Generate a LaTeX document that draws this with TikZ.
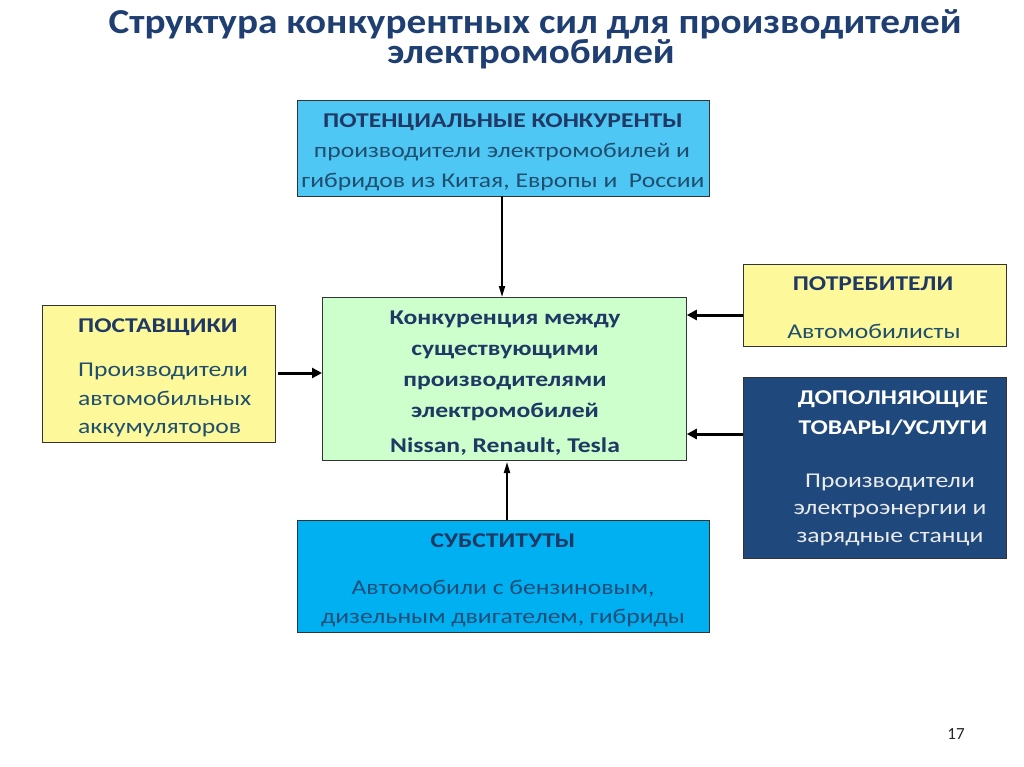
\documentclass[tikz,border=0pt]{standalone}
\usepackage{fontspec}
\setmainfont{Carlito}
\newfontfamily\titlefont[FakeStretch=1.12]{Carlito}
\newfontfamily\bodyfont[FakeStretch=1.22]{Carlito}
\usetikzlibrary{arrows.meta}
\definecolor{titlec}{HTML}{1F3F73}
\definecolor{headc}{HTML}{1F3864}
\definecolor{bodyc}{HTML}{1F4E6E}
\definecolor{subbody}{HTML}{1F4E79}
\definecolor{topfill}{HTML}{4FC7F4}
\definecolor{botfill}{HTML}{00B0F0}
\definecolor{greenfill}{HTML}{CCFFCC}
\definecolor{yellowfill}{HTML}{FDF99B}
\definecolor{darkfill}{HTML}{1F497D}
\tikzset{
  box/.style={draw=black!80, line width=0.8pt, inner sep=0pt, anchor=north west},
  head/.style={anchor=base, inner sep=0pt, font=\bodyfont\bfseries\fontsize{21}{21}\selectfont, text=headc},
  body/.style={anchor=base, inner sep=0pt, font=\bodyfont\fontsize{21}{21}\selectfont, text=bodyc},
  titletext/.style={anchor=base, inner sep=0pt, font=\titlefont\bfseries\fontsize{35}{35}\selectfont, text=titlec},
  thick arrow/.style={line width=3pt, -{Triangle[length=10pt,width=10pt]}},
  thin arrow/.style={line width=1.8pt, -{Triangle[length=11pt,width=6pt]}},
}
\begin{document}
\begin{tikzpicture}[x=1pt,y=-1pt]
\useasboundingbox (0,0) rectangle (1024,767);
% title
\node[titletext] (title1) at (535,34) {Структура конкурентных сил для производителей};
\node[titletext] (title2) at (531,64) {электромобилей};
% boxes
\node[box, fill=topfill, minimum width=412pt, minimum height=96pt] (top) at (297,100) {};
\node[box, fill=greenfill, minimum width=364pt, minimum height=163pt] (center) at (322,297) {};
\node[box, fill=yellowfill, minimum width=233pt, minimum height=137pt] (left) at (42,305) {};
\node[box, fill=yellowfill, minimum width=263pt, minimum height=82pt] (rtop) at (743,264) {};
\node[box, fill=darkfill, minimum width=263pt, minimum height=181pt] (rbot) at (743,377) {};
\node[box, fill=botfill, minimum width=412pt, minimum height=112pt] (bot) at (297,520) {};
% top text
\node[head] (t1) at (503,128) {ПОТЕНЦИАЛЬНЫЕ КОНКУРЕНТЫ};
\node[body] (t2) at (502,158) {производители электромобилей и};
\node[body] (t3) at (503,188) {гибридов из Китая, Европы и~ России};
% left text
\node[head, anchor=base west] (l1) at (78,332) {ПОСТАВЩИКИ};
\node[body, anchor=base west] (l2) at (78,376) {Производители};
\node[body, anchor=base west] (l3) at (78,405) {автомобильных};
\node[body, anchor=base west] (l4) at (78,433) {аккумуляторов};
% center text
\node[head] (c1) at (505,324) {Конкуренция между};
\node[head] (c2) at (505,355) {существующими};
\node[head] (c3) at (505,386) {производителями};
\node[head] (c4) at (505,417) {электромобилей};
\node[head] (c5) at (505,452) {Nissan, Renault, Tesla};
% right top text
\node[head] (r1) at (873,290) {ПОТРЕБИТЕЛИ};
\node[body] (r2) at (874,338) {Автомобилисты};
% right bottom text
\node[head, text=white] (d1) at (893,404) {ДОПОЛНЯЮЩИЕ};
\node[head, text=white] (d2) at (893,434) {ТОВАРЫ/УСЛУГИ};
\node[body, text=white!92!black] (d3) at (890,487) {Производители};
\node[body, text=white!92!black] (d4) at (890,514) {электроэнергии и};
\node[body, text=white!92!black] (d5) at (890,542) {зарядные станци};
% bottom text
\node[head] (b1) at (503,547) {СУБСТИТУТЫ};
\node[body, text=subbody] (b2) at (503,594) {Автомобили с бензиновым,};
\node[body, text=subbody] (b3) at (503,623) {дизельным двигателем, гибриды};
% page number
\node[anchor=base, inner sep=0pt, font=\fontsize{17}{17}\selectfont, text=black!85] (pn) at (956,739) {17};
% arrows
\coordinate (aL) at (278,373);
\coordinate (aR1) at (743,315);
\coordinate (aR2) at (743,434);
\draw[thick arrow] (aL) -- (aL -| center.west);
\draw[thick arrow] (aR1) -- (aR1 -| center.east);
\draw[thick arrow] (aR2) -- (aR2 -| center.east);
\coordinate (aT) at (502,196);
\draw[thin arrow] (aT) -- (aT |- center.north);
\coordinate (aB) at (507,520);
\draw[thin arrow] (aB) -- (507,462);
\end{tikzpicture}
\end{document}
